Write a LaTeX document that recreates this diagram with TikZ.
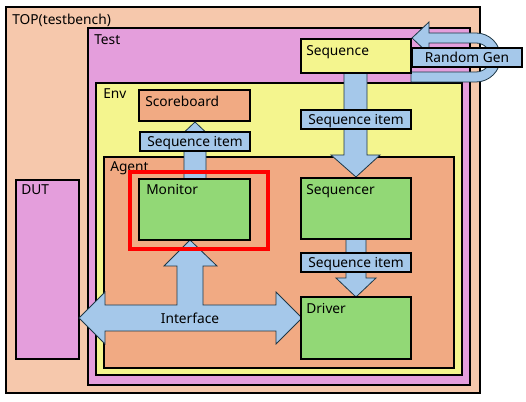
\documentclass[tikz,border=0pt]{standalone}
\usepackage{fontspec}
\setmainfont{Noto Sans}
\definecolor{topc}{RGB}{246,200,172}
\definecolor{testc}{RGB}{228,158,220}
\definecolor{envc}{RGB}{244,245,142}
\definecolor{agentc}{RGB}{241,170,131}
\definecolor{greenc}{RGB}{146,216,118}
\definecolor{bluec}{RGB}{165,200,234}
\definecolor{edgec}{RGB}{30,55,70}
\begin{document}
\begin{tikzpicture}[x=0.75pt,y=-0.75pt,
  box/.style={draw=black,line width=0.9pt},
  txt/.style={inner sep=0pt,font=\fontsize{10.3}{12}\selectfont},
  lbl/.style={txt,anchor=base west},
  ctr/.style={txt,anchor=base},
  arr/.style={fill=bluec,draw=edgec,line width=0.6pt,line join=miter},
  tagbox/.style={draw=black,line width=0.8pt,fill=bluec}]
\useasboundingbox (0,0) rectangle (526,402);
% containers
\draw[box,fill=topc] (6,7) rectangle (480,393);
\node[lbl] (ttop) at (12,25) {TOP(testbench)};
\draw[box,fill=testc] (88,28) rectangle (470,385);
\node[lbl] (ttest) at (94,45) {Test};
\draw[box,fill=envc] (96,83) rectangle (462,375);
\node[lbl] (tenv) at (103,99) {Env};
\draw[box,fill=agentc] (104,157) rectangle (454,368);
\node[lbl] (tagent) at (110,172) {Agent};
\draw[box,fill=testc] (16,180) rectangle (79,359);
\node[lbl] (tdut) at (21,195) {DUT};
% scoreboard
\draw[box,fill=agentc] (139,90) rectangle (250,121);
\node[lbl] (tsb) at (145,107) {Scoreboard};
% arrows
\draw[arr] (184,179) -- (184,140) -- (176,140) -- (195,122) -- (214,140) -- (206,140) -- (206,179) -- cycle;
\draw[arr] (344,73) -- (344,155) -- (331,155) -- (356,177) -- (380,155) -- (367,155) -- (367,73) -- cycle;
\draw[arr] (346,239) -- (346,278) -- (336,278) -- (356,297) -- (376,278) -- (366,278) -- (366,239) -- cycle;
\draw[arr] (79,318) -- (105,292) -- (105,305) -- (177,305) -- (177,266) -- (164,266) -- (190,240)
  -- (217,266) -- (203,266) -- (203,305) -- (276,305) -- (276,292) -- (302,318) -- (276,344)
  -- (276,331) -- (105,331) -- (105,344) -- cycle;
\node[ctr] (tint) at (190,324) {Interface};
% random gen U arrow
\draw[arr] (411,82) -- (476,82) .. controls (489.5,82) and (500.5,71) .. (500.5,57.5)
  .. controls (500.5,44) and (489.5,33) .. (476,33) -- (429,33) -- (429,22) -- (412,38)
  -- (429,54) -- (429,43) -- (476,43) .. controls (484,43) and (490.5,49.5) .. (490.5,57.5)
  .. controls (490.5,65.5) and (484,72) .. (476,72) -- (411,72) -- cycle;
% sequence
\draw[box,fill=envc] (301,39) rectangle (411,73);
\node[lbl] (tseq) at (306,56) {Sequence};
\draw[tagbox] (412,48) rectangle (522,67);
\node[ctr] (trg) at (467,63) {Random Gen};
% sequence item tags
\draw[tagbox] (140,132) rectangle (250,151);
\node[ctr] (si1) at (195,147) {Sequence item};
\draw[tagbox] (301,110) rectangle (411,129);
\node[ctr] (si2) at (356,124.5) {Sequence item};
\draw[tagbox] (301,253) rectangle (411,272);
\node[ctr] (si3) at (356,268) {Sequence item};
% components
\draw[box,fill=greenc] (139,179) rectangle (250,240);
\node[lbl] (tmon) at (146,195) {Monitor};
\draw[box,fill=greenc] (301,178) rectangle (411,239);
\node[lbl] (tsqr) at (306,195) {Sequencer};
\draw[box,fill=greenc] (301,297) rectangle (411,359);
\node[lbl] (tdrv) at (306,314) {Driver};
% red highlight
\draw[red,line width=3pt] (129.5,172.5) rectangle (267.5,249);
\end{tikzpicture}
\end{document}
